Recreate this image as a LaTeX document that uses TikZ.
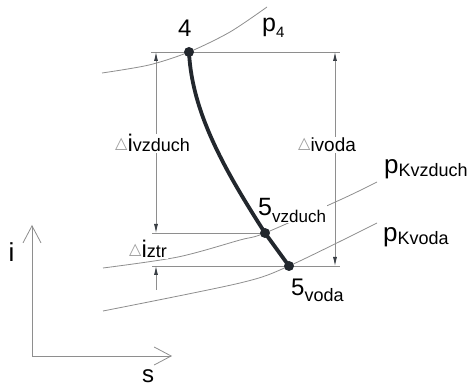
\documentclass[tikz,border=0pt]{standalone}
\usepackage{fontspec}
\setmainfont{Liberation Sans}
\newfontfamily\dvsans{DejaVu Sans}
\usetikzlibrary{arrows.meta}
\definecolor{thin}{HTML}{8E8E8E}
\definecolor{ink}{HTML}{22272D}
\definecolor{tri}{HTML}{9A9A9A}
\definecolor{tipc}{HTML}{3A3F45}
\newcommand{\fs}[1]{\fontsize{#1}{#1}\selectfont}
\newcommand{\tri}{\raisebox{3pt}{\dvsans\fs{16}\color{tri}△}}
\newcommand{\lab}[5]{{\fs{#1}#2\raisebox{-#5pt}{\fs{#3}#4}}}
\begin{document}
\begin{tikzpicture}[x=1pt,y=-1pt,
  thinline/.style={draw=thin, line width=0.8pt},
  dimtips/.style={{Latex[length=9pt,width=4pt,color=tipc]}-{Latex[length=9pt,width=4pt,color=tipc]}},
  dimtip/.style={-{Latex[length=9pt,width=4pt,color=tipc]}},
  axisline/.style={draw=thin, line width=0.8pt, -{Straight Barb[length=17pt,width=18pt,line width=0.8pt]}},
  dot/.style={circle, fill=ink, inner sep=0pt, minimum size=10pt},
  proc/.style={draw=ink, line width=3.8pt},
  lbl/.style={anchor=base west, inner sep=0pt},
  dimlab/.style={anchor=base west, fill=white, inner xsep=1pt, inner ysep=1pt},
]
\useasboundingbox (0,0) rectangle (467,387);

% state points
\coordinate (P4) at (189,52);
\coordinate (P5a) at (265,233);
\coordinate (P5b) at (289,266);

% isobars
\draw[thinline] plot[smooth] coordinates {(102,73) (149,65) (189,52) (230,32) (267,7)};
\draw[thinline] plot[smooth] coordinates {(103,268) (178,257) (240,240) (265,233) (342,199) (377,182)};
\draw[thinline] plot[smooth] coordinates {(103,311) (240,283) (289,266) (377,223)};

% extension lines
\coordinate (h4l) at (151,52);  \coordinate (h4r) at (340,52);
\coordinate (h5al) at (152,233);
\coordinate (h5bl) at (152,266); \coordinate (h5br) at (340,266);
\draw[thinline] (h4l) -- (h4r);
\draw[thinline] (h5al) -- (P5a);
\draw[thinline] (h5bl) -- (h5br);

% dimension lines
\coordinate (d1t) at (156,52);  \coordinate (d1b) at (156,233);
\coordinate (d2t) at (156,266); \coordinate (d2b) at (156,290);
\coordinate (d3t) at (335,52);  \coordinate (d3b) at (335,266);
\draw[thinline, dimtips] (d1t) -- (d1b);
\draw[thinline, dimtip] (d2b) -- (d2t);
\draw[thinline, dimtips] (d3t) -- (d3b);

% dimension labels
\node[dimlab] (lvz) at (114,152) {\tri{\fs{24}i}{\fs{18}vzduch}};
\node[dimlab] (lvo) at (297,152) {\tri{\fs{19}i}{\fs{19}voda}};
\node[dimlab] (lzt) at (128,258) {\tri{\fs{24}i}{\fs{18}ztr}};

% axes
\coordinate (O) at (32,356);
\coordinate (Yend) at (32,225);
\coordinate (Xend) at (172,356);
\draw[axisline] (O) -- (Yend);
\draw[axisline] (O) -- (Xend);
\node[anchor=base] (li) at (11.5,262) {\fs{26}i};
\node[anchor=base] (ls) at (148,383) {\fs{24}s};

% point labels
\node[lbl] (l4) at (178,37) {\fs{24}4};
\node[lbl] (lp4) at (262,32) {\lab{25}{p}{15}{4}{6}};
\node[lbl] (lpkvz) at (384,174) {\lab{26}{p}{18}{Kvzduch}{3}};
\node[lbl] (lpkvo) at (383,242) {\lab{26}{p}{18}{Kvoda}{3}};
\node[lbl, fill=white, inner xsep=1pt] (l5a) at (257,216) {\lab{25}{5}{17}{vzduch}{7}};
\node[lbl] (l5b) at (291,296) {\lab{24}{5}{18}{voda}{6}};

% process line
\draw[proc] (P4) .. controls (192,115) and (228,175) .. (P5a) -- (P5b);
\node[dot] (n4) at (P4) {};
\node[dot] (n5a) at (P5a) {};
\node[dot] (n5b) at (P5b) {};
\end{tikzpicture}
\end{document}
